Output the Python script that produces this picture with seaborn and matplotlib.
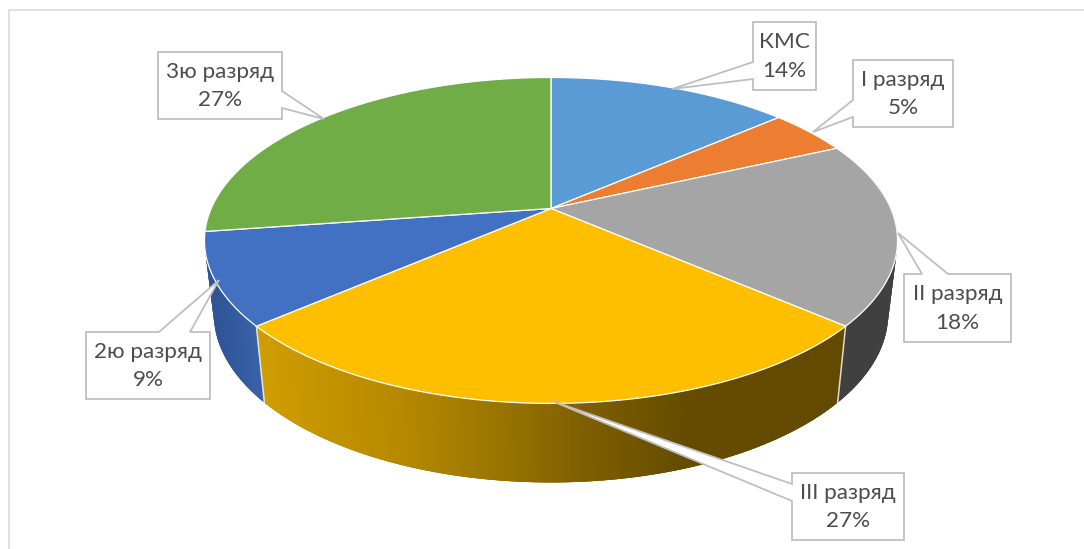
import numpy as np
import matplotlib
matplotlib.use("Agg")
import matplotlib.pyplot as plt
import seaborn as sns

# data (percent labels are these counts out of 22)
names = ["КМС", "I разряд", "II разряд", "III разряд", "2ю разряд", "3ю разряд"]
counts = [3, 1, 4, 6, 2, 6]
top_colors = ["#5b9bd5", "#ed7d31", "#a5a5a5", "#fdbf00", "#4270c2", "#70ad47"]

sns.set_theme(style="white")
plt.rcParams["font.family"] = ["Lato", "DejaVu Sans"]
palette = sns.color_palette(top_colors)

W, H = 1084, 549
fig = plt.figure(figsize=(W / 100, H / 100), dpi=100)
ax = fig.add_axes([0, 0, 1, 1])
ax.set_xlim(0, W)
ax.set_ylim(H, 0)
ax.axis("off")

# chart frame, only left and top are in the crop
ax.plot([8.5, 8.5, W], [H, 9.5, 9.5], color="#d9d9d9", lw=1.2)

# tilted disc seen in perspective
CX, CY = 551, 208.5
A, B, K = 339.8, 156.7, 0.196


def top_xy(t):
    d = 1 + K * np.sin(t)
    return CX + A * np.cos(t) / d, CY - B * np.sin(t) / d


def bottom_xy(t):
    d = 1 + K * np.sin(t)
    return CX + 0.973 * A * np.cos(t) / d, 280.7 - 1.035 * B * np.sin(t) / d


fractions = np.array(counts) / sum(counts)
edges = np.pi / 2 - 2 * np.pi * np.concatenate([[0], np.cumsum(fractions)])


def wall(t_from, t_to, colors_at, z=1):
    ts = np.linspace(t_from, t_to, 200)
    xt, yt = top_xy(ts)
    xb, yb = bottom_xy(ts)
    # solid base under the strips so the background never bleeds through
    ax.fill(np.r_[xt, xb[::-1]], np.r_[yt, yb[::-1]],
            facecolor=colors_at(xt.mean()), edgecolor="none", zorder=z)
    for i in range(len(ts) - 1):
        j = min(i + 2, len(ts) - 1)
        mx = (xt[i] + xt[i + 1]) / 2
        ax.fill([xt[i], xt[j], xb[j], xb[i]], [yt[i], yt[j], yb[j], yb[i]],
                facecolor=colors_at(mx), edgecolor="none", zorder=z)


def gradient(xs, cols):
    rgb = np.array([matplotlib.colors.to_rgb(c) for c in cols])
    def at(x):
        return [np.interp(x, xs, rgb[:, j]) for j in range(3)]
    return at


# side walls, only the front slices show
wall(np.radians(10), edges[3], gradient([0, 1], ["#404040", "#404040"]))
wall(edges[3], edges[4], gradient([258, 400, 490, 600, 690, 840],
                                  ["#d09d00", "#b58900", "#9c7600", "#7a5c00", "#644b00", "#634a00"]))
wall(edges[4], edges[5] - np.radians(14), gradient([212, 265], ["#2f5597", "#3b65ac"]))

# white seams between the walls
for e in (edges[3], edges[4]):
    xt, yt = top_xy(e)
    xb, yb = bottom_xy(e)
    ax.plot([xt, xb], [yt, yb], color="white", lw=1.1, alpha=0.8, zorder=2)

# top face
for i in range(len(counts)):
    ts = np.linspace(edges[i], edges[i + 1], 120)
    x, y = top_xy(ts)
    ax.fill(np.r_[CX, x], np.r_[CY, y], facecolor=palette[i],
            edgecolor="white", lw=0.9, zorder=3)

# callouts: box (x0, y0, x1, y1), then the outline points of the pointer
boxes = [(753, 22, 816, 90), (853, 60, 953, 127), (904, 274, 1011, 342),
         (792, 473, 904, 540), (86, 332, 210, 399), (158, 52, 282, 119)]
outlines = [
    [(753, 22), (816, 22), (816, 90), (753, 90), (753, 79), (672, 89), (753, 62)],
    [(853, 60), (953, 60), (953, 127), (853, 127), (853, 117), (813, 132), (853, 100)],
    [(904, 274), (922, 274), (898, 233), (948, 274), (1011, 274), (1011, 342), (904, 342)],
    [(792, 473), (904, 473), (904, 540), (792, 540), (792, 501), (552, 401), (792, 484)],
    [(86, 332), (159, 332), (219, 280), (190, 332), (210, 332), (210, 399), (86, 399)],
    [(158, 52), (282, 52), (282, 91), (324, 119), (282, 108), (282, 119), (158, 119)],
]

for name, frac, box, outline in zip(names, fractions, boxes, outlines):
    xs, ys = zip(*outline)
    ax.fill(xs, ys, facecolor="white", edgecolor="#bfbfbf", lw=1.3, zorder=5)
    ax.text((box[0] + box[2]) / 2, (box[1] + box[3]) / 2 + 0.5,
            f"{name}\n{round(frac * 100)}%", ha="center", va="center",
            fontsize=16.2, color="#4d4d4d", linespacing=1.55, zorder=6)

fig.savefig("out.png", dpi=100)
